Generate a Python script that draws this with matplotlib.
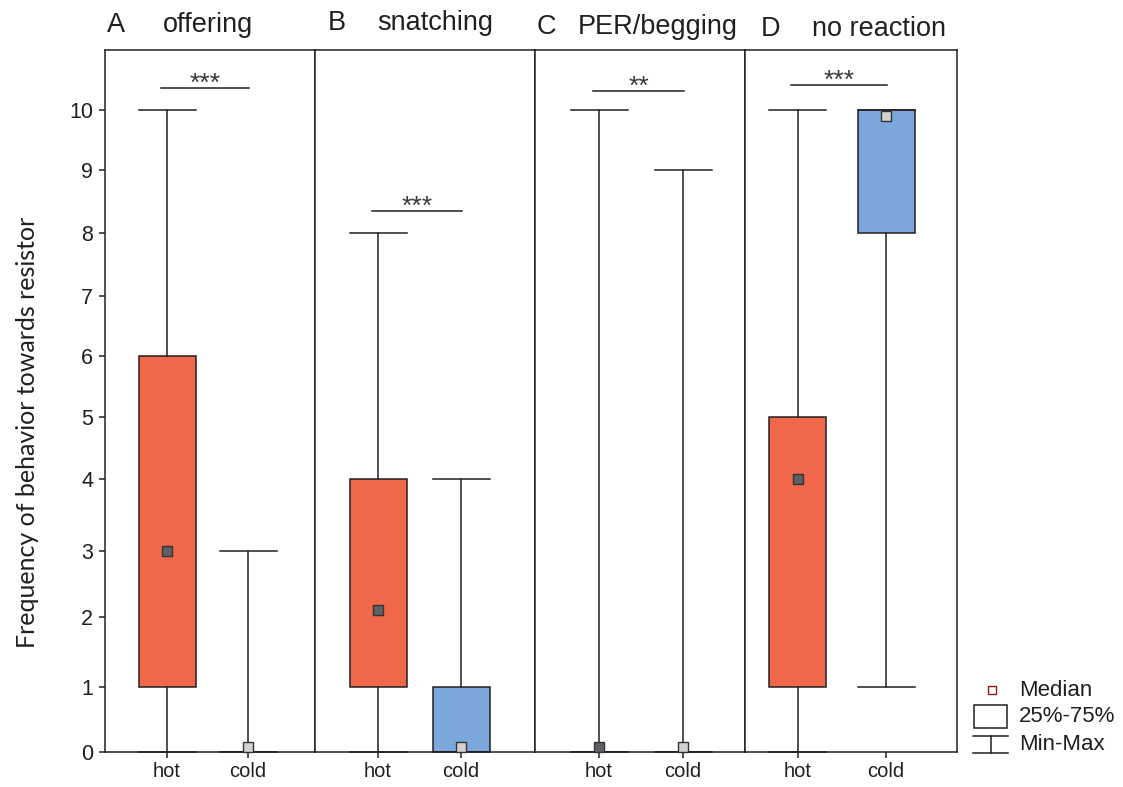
import numpy as np
import matplotlib
matplotlib.use('Agg')
import matplotlib.pyplot as plt
from matplotlib.patches import Rectangle

plt.rcParams['font.family'] = ['Liberation Sans', 'DejaVu Sans']

# data
letters = ['A', 'B', 'C', 'D']
behaviors = ['offering', 'snatching', 'PER/begging', 'no reaction']
groups = ['hot', 'cold']
# [hot, cold] per panel
mins = [[0, 0], [0, 0], [0, 0], [0, 1]]
q1s = [[1, 0], [1, 0], [0, 0], [1, 8]]
medians = [[3, 0.08], [2.1, 0.08], [0.08, 0.08], [4, 9.9]]
q3s = [[6, 0], [4, 1], [0, 0], [5, 10]]
maxs = [[10, 3], [8, 4], [10, 9], [10, 10]]
sig_labels = ['***', '***', '**', '***']
sig_heights = [10.36, 8.35, 10.31, 10.41]
yticks = list(range(0, 11))

# y axis of the original is drawn with uneven tick spacing
scale_vals = [0, 1, 2, 3, 4, 5, 6, 7, 8, 9, 10, 11]
scale_pos = [0, 64.7, 134.7, 200.7, 272.7, 334.2, 395, 455, 517.7, 581, 641, 701]

def fwd(v):
    return np.interp(v, scale_vals, scale_pos)

def inv(p):
    return np.interp(p, scale_pos, scale_vals)

hot_color = '#F0674A'
cold_color = '#7BA7DA'
med_colors = ['#5E6063', '#D2D2D2']
line_col = '#231F20'

W, H = 1123, 787
fig = plt.figure(figsize=(W / 100, H / 100), dpi=100)

edges = [105, 315, 535, 745, 957]
top_px, bot_px = 50, 751.7
hot_px = [167, 378, 599, 797.5]
cold_px = [248, 461, 683, 886]
box_px = 57
letter_px = [107, 328, 537, 761]
word_px = [163, 377, 578, 812]
title_base = [32, 30, 34, 36]

for i in range(4):
    left, right = edges[i], edges[i + 1]
    ax = fig.add_axes([left / W, 1 - bot_px / H, (right - left) / W, (bot_px - top_px) / H])
    sp = cold_px[i] - hot_px[i]
    ax.set_xlim(1 - (hot_px[i] - left) / sp, 1 + (right - hot_px[i]) / sp)
    ax.set_yscale('function', functions=(fwd, inv))
    ax.set_ylim(0, 11)
    w = box_px / sp

    stats = []
    for g in range(2):
        stats.append(dict(whislo=mins[i][g], q1=q1s[i][g], med=medians[i][g],
                          q3=q3s[i][g], whishi=maxs[i][g], fliers=[]))
    bp = ax.bxp(stats, positions=[1, 2], widths=w, capwidths=w, patch_artist=True,
                showfliers=False,
                boxprops=dict(edgecolor=line_col, linewidth=1.1),
                whiskerprops=dict(color=line_col, linewidth=1.1),
                capprops=dict(color=line_col, linewidth=1.1),
                medianprops=dict(linewidth=0))
    for patch, c in zip(bp['boxes'], [hot_color, cold_color]):
        patch.set_facecolor(c)
    for cap in bp['caps']:
        cap.set_clip_on(False)

    for g in range(2):
        ax.plot(1 + g, medians[i][g], 's', ms=7, mfc=med_colors[g], mec='#333333',
                mew=1, zorder=5, clip_on=False)

    # significance bar
    ax.plot([0.93, 2.01], [sig_heights[i]] * 2, color=line_col, lw=1.1)
    ax.annotate(sig_labels[i], xy=(1.47, sig_heights[i]), xytext=(0, -2),
                textcoords='offset points', ha='center', va='baseline',
                fontsize=19, color='#3a3a3a')

    ax.set_xticks([1, 2])
    ax.set_xticklabels(groups, fontsize=14.5, color='#231F20')
    ax.tick_params(axis='x', length=4.5, width=1.1, pad=3, color=line_col)
    if i == 0:
        ax.set_yticks(yticks)
        ax.set_yticklabels([str(t) for t in yticks], fontsize=15.5, color='#231F20')
        ax.tick_params(axis='y', length=4.5, width=1.1, pad=4, color=line_col)
    else:
        ax.set_yticks([])
    ax.minorticks_off()
    for s in ax.spines.values():
        s.set_linewidth(1.1)
        s.set_color(line_col)

    fig.text(letter_px[i] / W, 1 - title_base[i] / H, letters[i], fontsize=19.5,
             va='baseline', ha='left', color='#231F20')
    fig.text(word_px[i] / W, 1 - title_base[i] / H, behaviors[i], fontsize=19.5,
             va='baseline', ha='left', color='#231F20')

fig.text(28 / W, 1 - 432 / H, 'Frequency of behavior towards resistor', rotation=90,
         fontsize=18, family=['Lato', 'DejaVu Sans'], ha='center', va='center',
         color='#231F20')

# legend drawn by hand
ov = fig.add_axes([0, 0, 1, 1])
ov.set_xlim(0, W)
ov.set_ylim(H, 0)
ov.axis('off')
ov.patch.set_visible(False)
ov.plot(992, 690, 's', ms=5.5, mfc='white', mec='#8B1A1A', mew=1)
ov.add_patch(Rectangle((974, 705), 33, 23, fill=False, ec=line_col, lw=1.1))
ov.plot([973, 1008], [736, 736], color=line_col, lw=1.1)
ov.plot([990.5, 990.5], [736, 753], color=line_col, lw=1.1)
ov.plot([973, 1008], [753, 753], color=line_col, lw=1.1)
for txt, y in zip(['Median', '25%-75%', 'Min-Max'], [690, 717, 744]):
    ov.text(1019, y, txt, fontsize=16, va='center', ha='left', color='#231F20')

fig.savefig('out.png', dpi=100)
